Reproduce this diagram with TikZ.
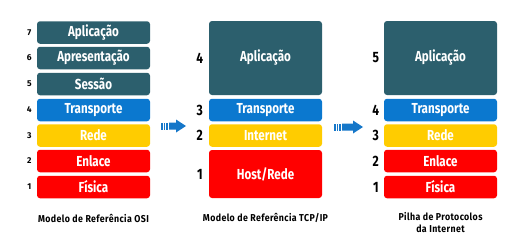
\documentclass[tikz,border=0pt]{standalone}
\usepackage{fontspec}
\setmainfont{Fira Sans}
\newfontfamily\cond[FakeStretch=0.8]{Fira Sans}
\newfontfamily\capfont[FakeStretch=0.88,LetterSpace=4]{Fira Sans}
\begin{document}
\definecolor{teal}{HTML}{2C5F6D}
\definecolor{tblue}{HTML}{0B78CF}
\definecolor{tyellow}{HTML}{FFCC00}
\definecolor{tred}{HTML}{FF0000}
\definecolor{arrowblue}{HTML}{1577C9}
\begin{tikzpicture}[x=1pt,y=-1pt,
  layer/.style={rounded corners=3pt, minimum width=113pt, inner sep=0pt,
    text=white, font=\cond\bfseries\fontsize{14.5}{14.5}\selectfont},
  thin/.style={layer, minimum height=22.5pt},
  num/.style={inner sep=0pt, font=\cond\bfseries\fontsize{15}{15}\selectfont},
  smallnum/.style={inner sep=0pt, font=\bfseries\fontsize{8.5}{8.5}\selectfont},
  caption/.style={inner sep=0pt, align=center, font=\capfont\bfseries\fontsize{10}{12}\selectfont},
  bigarrow/.style={fill=arrowblue, draw=none}
]
\useasboundingbox (0,0) rectangle (530,241);

% OSI reference model
\node[thin, fill=teal]    (o7) at (93.5,32.5)  {Aplicação};
\node[thin, fill=teal]    (o6) at (93.5,58)    {Apresentação};
\node[thin, fill=teal]    (o5) at (93.5,84)    {Sessão};
\node[thin, fill=tblue]   (o4) at (93.5,110)   {Transporte};
\node[thin, fill=tyellow] (o3) at (93.5,135.5) {Rede};
\node[thin, fill=tred]    (o2) at (93.5,161)   {Enlace};
\node[thin, fill=tred]    (o1) at (93.5,187)   {Física};
\foreach \i in {1,...,7}
  \node[smallnum] (on\i) at ([xshift=-7.5pt]o\i.west) {\i};
\node[caption] (ocap) at (93.5,218) {Modelo de Referência OSI};

% TCP/IP reference model
\node[layer, fill=teal, minimum height=74pt] (t4) at (265.5,58) {Aplicação};
\node[thin, fill=tblue]   (t3) at (265.5,110)   {Transporte};
\node[thin, fill=tyellow] (t2) at (265.5,135.5) {Internet};
\node[layer, fill=tred, minimum height=48pt] (t1) at (265.5,174) {Host/Rede};
\foreach \i in {1,...,4}
  \node[num] (tn\i) at ([xshift=-9pt]t\i.west) {\i};
\node[caption] (tcap) at (265.5,218) {Modelo de Referência TCP/IP};

% Internet protocol stack
\node[layer, fill=teal, minimum height=74pt] (i5) at (440.5,58) {Aplicação};
\node[thin, fill=tblue]   (i4) at (440.5,110)   {Transporte};
\node[thin, fill=tyellow] (i3) at (440.5,135.5) {Rede};
\node[thin, fill=tred]    (i2) at (440.5,161)   {Enlace};
\node[thin, fill=tred]    (i1) at (440.5,187)   {Física};
\foreach \i in {1,...,5}
  \node[num] (in\i) at ([xshift=-8pt]i\i.west) {\i};
\node[caption] (icap) at (440.5,223) {Pilha de Protocolos\\da Internet};

% Striped block arrows between the stacks
\foreach \sx/\tx/\cy in {161/186/126, 334/363/127}{
  \begin{scope}[shift={(\sx,\cy)}]
    \pgfmathsetmacro{\L}{\tx-\sx}
    \fill[bigarrow] (0,-3.5) rectangle (1.5,3.5);
    \fill[bigarrow] (2.7,-3.5) rectangle (4.2,3.5);
    \fill[bigarrow] (5.4,-3.5) rectangle (6.9,3.5);
    \fill[bigarrow] (8,-3.5) -- (\L-10,-3.5) -- (\L-10,-6.5) -- (\L,0)
      -- (\L-10,6.5) -- (\L-10,3.5) -- (8,3.5) -- cycle;
  \end{scope}
}
\end{tikzpicture}
\end{document}
